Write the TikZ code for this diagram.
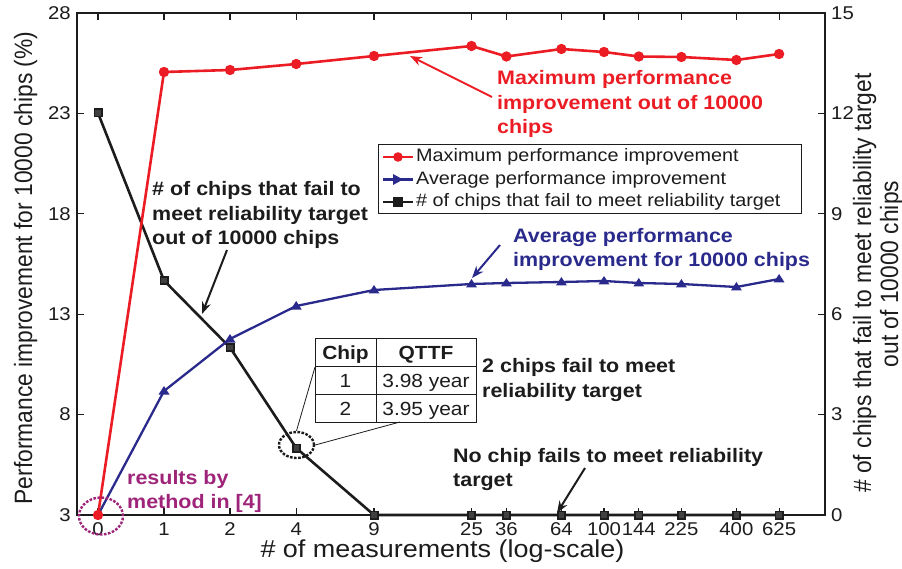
\documentclass[tikz,border=0pt]{standalone}
\usepackage{fontspec}
\setmainfont{Liberation Sans}[FakeStretch=1.1]
\newfontfamily\sidefont{Liberation Sans}
\usetikzlibrary{arrows.meta,shapes.geometric}
\definecolor{maxred}{RGB}{236,28,36}
\definecolor{avgblue}{RGB}{42,42,140}
\definecolor{refpurple}{RGB}{158,36,122}
\definecolor{inkblack}{RGB}{28,28,28}

\begin{document}
\begin{tikzpicture}[x=1pt,y=-1pt,
  ax/.style={line width=1.4pt, draw=inkblack},
  tk/.style={line width=1.2pt, draw=inkblack},
  ticklab/.style={font=\fontsize{18.5}{20}\selectfont, inner sep=0pt, text=inkblack},
  legtext/.style={font=\fontsize{18}{20}\selectfont, inner sep=0pt, text=inkblack},
  note/.style={font=\bfseries\fontsize{19.5}{24.5}\selectfont, align=left, inner sep=0pt},
  tabtext/.style={font=\fontsize{19}{20}\selectfont, inner sep=0pt, anchor=base, text=inkblack},
  redline/.style={draw=maxred, line width=2.6pt, line join=round},
  blueline/.style={draw=avgblue, line width=2.3pt, line join=round},
  blackline/.style={draw=inkblack, line width=2.6pt, line join=round},
  annarrow/.style={line width=2pt, -{Stealth[length=12pt,width=9pt]}},
  dotring/.style={ellipse, inner sep=0pt, line width=2.4pt, dash pattern=on 2.6pt off 1.5pt},
  thinrule/.style={line width=0.8pt, draw=inkblack}
]
\useasboundingbox (0,0) rectangle (902,569);

% ---- axes frame and ticks ----
\draw[ax] (77,13) rectangle (825,515);
\foreach \x in {98,164,230,296.2,374,471.5,506.4,561.4,604,638.8,681.4,736.4,779.1} {
  \draw[tk] (\x,515) -- (\x,508);
  \draw[tk] (\x,13) -- (\x,20);
}
\foreach \v [count=\i from 0] in {3,8,13,18,23,28} {
  \pgfmathsetmacro\yy{515-\i*100.4}
  \draw[tk] (77,\yy) -- (84,\yy);
  \node[ticklab, anchor=east] at (71,\yy) {\v};
}
\foreach \v [count=\i from 0] in {0,3,6,9,12,15} {
  \pgfmathsetmacro\yy{515-\i*100.4}
  \draw[tk] (825,\yy) -- (818,\yy);
  \node[ticklab, anchor=west] at (831,\yy) {\v};
}
\foreach \x/\t in {98/0,164/1,230/2,296.2/4,374/9,471.5/25,506.4/36,561.4/64,604/100,638.8/144,681.4/225,736.4/400,779.1/625} {
  \node[ticklab, anchor=base] at (\x,535) {\t};
}

% ---- axis titles ----
\node[font=\fontsize{24.5}{26}\selectfont, anchor=base, inner sep=0pt, text=inkblack] (xlabel) at (442.5,557) {\# of measurements (log-scale)};
\node[rotate=90, anchor=base, inner sep=0pt, text=inkblack] (ylabelL) at (32,268)
  {\sidefont\fontsize{22.8}{24}\selectfont\scalebox{1}[1.1]{Performance improvement for 10000 chips (\%)}};
\node[rotate=90, anchor=base, inner sep=0pt, text=inkblack] (ylabelR1) at (871,283)
  {\sidefont\fontsize{22.8}{24}\selectfont\scalebox{1}[1.1]{\# of chips that fail to meet reliability target}};
\node[rotate=90, anchor=base, inner sep=0pt, text=inkblack] (ylabelR2) at (898,274)
  {\sidefont\fontsize{22.8}{24}\selectfont\scalebox{1}[1.1]{out of 10000 chips}};

% ---- failing chips (right axis) ----
\draw[blackline] (98,113) -- (164,280.5) -- (230,347.5) -- (296.2,448) -- (374,515) -- (471.5,515) -- (506.4,515) -- (561.4,515) -- (604,515) -- (638.8,515) -- (681.4,515) -- (736.4,515) -- (779.1,515);
\foreach \x/\y in {98/113,164/280.5,230/347.5,296.2/448,374/515,471.5/515,506.4/515,561.4/515,604/515,638.8/515,681.4/515,736.4/515,779.1/515} {
  \filldraw[draw=inkblack, fill=black!75, line width=1.8pt] (\x-3.6,\y-3.6) rectangle (\x+3.6,\y+3.6);
}

% ---- average improvement ----
\draw[blueline] (98,515) -- (164,391) -- (230,339) -- (296.2,306) -- (374,290) -- (471.5,284) -- (506.4,283) -- (561.4,282) -- (604,281) -- (638.8,283) -- (681.4,284) -- (736.4,287) -- (779.1,279);
\foreach \x/\y in {164/391,230/339,296.2/306,374/290,471.5/284,506.4/283,561.4/282,604/281,638.8/283,681.4/284,736.4/287,779.1/279} {
  \fill[avgblue] (\x,\y) ++(0,-5) -- ++(5.5,8.5) -- ++(-11,0) -- cycle;
}

% ---- maximum improvement ----
\draw[redline] (98,515) -- (164,72) -- (230,70) -- (296.2,64) -- (374,56) -- (471.5,46) -- (506.4,56.5) -- (561.4,49) -- (604,52) -- (638.8,56.5) -- (681.4,57) -- (736.4,60) -- (779.1,54);
\foreach \x/\y in {98/515,164/72,230/70,296.2/64,374/56,471.5/46,506.4/56.5,561.4/49,604/52,638.8/56.5,681.4/57,736.4/60,779.1/54} {
  \fill[maxred] (\x,\y) circle[radius=5.2pt];
}

% ---- legend ----
\node[draw=inkblack, line width=1pt, minimum width=423pt, minimum height=69pt, anchor=north west, inner sep=0pt, fill=white] (legend) at (378,144) {};
\draw[redline, line width=2.2pt] (383,157) -- (413,157);
\fill[maxred] (398,157) circle[radius=4.8pt];
\node[legtext, anchor=west] (leg1) at (416,157) {Maximum performance improvement};
\draw[blueline, line width=2.2pt] (383,179.5) -- (413,179.5);
\fill[avgblue] (403,179.5) -- (393,174) -- (393,185) -- cycle;
\node[legtext, anchor=west] (leg2) at (416,179.5) {Average performance improvement};
\draw[blackline, line width=1.6pt] (383,202) -- (413,202);
\fill[inkblack] (393,197) rectangle (403,207);
\node[legtext, anchor=west] (leg3) at (416,202) {\# of chips that fail to meet reliability target};

% ---- annotations ----
\node[note, text=maxred, anchor=west] (maxnote) at (497,104) {Maximum performance\\improvement out of 10000\\chips};
\coordinate (maxtail) at (492,97);
\coordinate (maxtip) at (410,56);
\draw[annarrow, maxred] (maxtail) -- (maxtip);

\node[note, text=inkblack, anchor=west] (failnote) at (152,215) {\# of chips that fail to\\meet reliability target\\out of 10000 chips};
\coordinate (failtail) at (227,250);
\coordinate (failtip) at (202,314);
\draw[annarrow, inkblack] (failtail) -- (failtip);

\node[note, text=avgblue, anchor=west] (avgnote) at (513,249.5) {Average performance\\improvement for 10000 chips};
\coordinate (avgtail) at (500,245);
\coordinate (avgtip) at (472,278);
\draw[annarrow, avgblue] (avgtail) -- (avgtip);

\node[note, text=inkblack, anchor=west] (twonote) at (482,380) {2 chips fail to meet\\reliability target};

\node[note, text=inkblack, anchor=west] (nonenote) at (453,469.5) {No chip fails to meet reliability\\target};
\coordinate (nonetail) at (585,468);
\coordinate (nonetip) at (557,513);
\draw[annarrow, inkblack] (nonetail) -- (nonetip);

\node[note, text=refpurple, anchor=west] (refnote) at (127,491.5) {results by\\method in [4]};
\node[dotring, draw=refpurple, minimum width=44pt, minimum height=37pt] (mark0) at (101,516) {};

% ---- QTTF table ----
\node[dotring, draw=inkblack, minimum width=35pt, minimum height=26pt] (mark2) at (296.5,445) {};
\fill[white] (315,338) rectangle (476,422);
\draw[thinrule] (315,338) rectangle (476,422);
\draw[thinrule] (376,338) -- (376,422);
\draw[thinrule] (315,366) -- (476,366);
\draw[thinrule] (315,394) -- (476,394);
\node[tabtext, font=\bfseries\fontsize{19}{20}\selectfont] (hChip) at (345.5,359) {Chip};
\node[tabtext, font=\bfseries\fontsize{19}{20}\selectfont] (hQttf) at (426,359) {QTTF};
\node[tabtext] (c1) at (345.5,387) {1};
\node[tabtext] (q1) at (426,387) {3.98 year};
\node[tabtext] (c2) at (345.5,415) {2};
\node[tabtext] (q2) at (426,415) {3.95 year};
\coordinate (tabL) at (315,367);
\coordinate (tabB) at (400,422);
\draw[thinrule] (tabL) -- (mark2.north);
\draw[thinrule] (tabB) -- (mark2.east);
\end{tikzpicture}
\end{document}
